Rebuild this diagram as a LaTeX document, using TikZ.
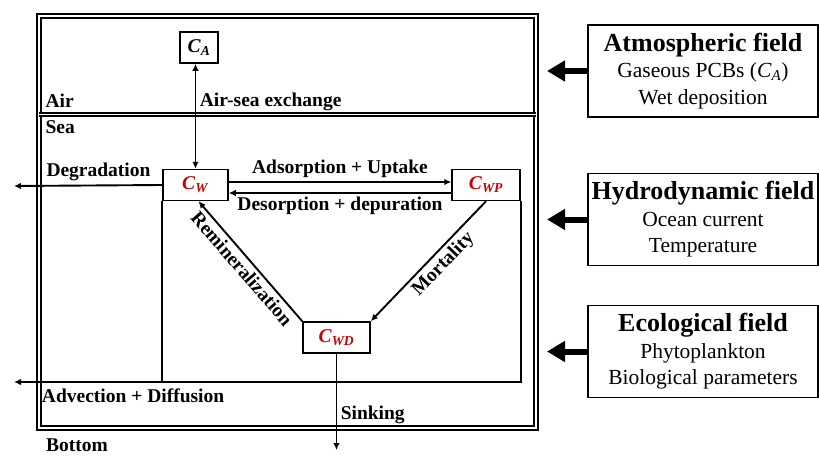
\documentclass[tikz,border=0pt]{standalone}
\usepackage{fontspec}
\setmainfont{Liberation Serif}
\usetikzlibrary{arrows.meta}
\newcommand{\conc}[1]{\textbf{\textit{C}\textsubscript{\textit{#1}}}}

\begin{document}
\begin{tikzpicture}[x=1pt, y=-1pt, font=\fontsize{19.5}{22}\selectfont\bfseries,
    comp/.style={draw, line width=1.5pt, minimum height=31pt, inner sep=0pt, text=red!80!black},
    field/.style={draw, line width=1.8pt, minimum width=230pt, minimum height=92pt, align=center,
      font=\fontsize{21.5}{26.5}\selectfont},
    fieldarrow/.style={-{Triangle[length=18pt,width=20pt]}, line width=6pt},
    wall/.style={double, line width=1.8pt, double distance=1.5pt}]
  \useasboundingbox (0,0) rectangle (819,455);

  % ocean box and air/sea interface
  \draw[wall] (39,16) rectangle (536,428);
  \draw[wall] (39,114.5) -- (536,114.5);
  \node[anchor=west] (air) at (42,101) {Air};
  \node[anchor=west] (sea) at (42,127) {Sea};
  \node[anchor=west, inner sep=1pt] (bottom) at (45,445) {Bottom};

  \begin{scope}[every node/.style={comp}]
    \node[text=black, minimum width=38pt] (CA) at (199,47.5) {\conc{A}};
    \node[minimum width=65pt] (CW) at (195.5,185) {\conc{W}};
    \node[minimum width=68pt] (CWP) at (486,185) {\conc{WP}};
    \node[minimum width=67pt] (CWD) at (336.5,337.5) {\conc{WD}};
  \end{scope}
  \coordinate (degout) at (14,186);
  \coordinate (advout) at (14,382);
  \coordinate (sinkout) at (336.5,450);

  \begin{scope}[->, >={Latex[length=7pt,width=6.5pt]}, line width=1.9pt]
    \draw[<->] (CA.south -| CW.north) -- node[pos=0.36, right] {Air-sea exchange} (CW.north);
    \draw ([yshift=3pt]CW.east) -- node[above] {Adsorption + Uptake} ([yshift=3pt]CWP.west);
    \draw ([yshift=-8pt]CWP.west) -- node[below] {Desorption + depuration} ([yshift=-8pt]CW.east);
    \draw (CW.west) -- node[pos=0.43, above] {Degradation} (degout);
    \draw[-] (CW.south west) -- (CW.south west |- advout);
    \draw (CWP.south east) -- (CWP.south east |- advout)
      -- node[pos=0.765, below=2pt] {Advection + Diffusion} (advout);
    \draw (CWD.south) -- node[pos=0.64, right] {Sinking} (sinkout);
    \draw (CWP.south) -- node[sloped, below, pos=0.45] {Mortality} (CWD.north east);
    \draw (CWD.north west) -- node[sloped, below] {Remineralization} ([xshift=3pt]CW.south);
  \end{scope}

  % driving fields
  \node[field] (atm) at (703,71) {{\fontsize{26}{27}\selectfont\bfseries Atmospheric field}\\
    Gaseous PCBs (\textit{C}\textsubscript{\textit{A}})\\Wet deposition};
  \node[field] (hyd) at (703,219.5) {{\fontsize{26}{27}\selectfont\bfseries Hydrodynamic field}\\
    Ocean current\\Temperature};
  \node[field] (eco) at (703,351.5) {{\fontsize{26}{27}\selectfont\bfseries Ecological field}\\
    Phytoplankton\\Biological parameters};
  \coordinate (fieldtip) at (547,0);
  \draw[fieldarrow] (atm.west) -- (atm.west -| fieldtip);
  \draw[fieldarrow] (hyd.west) -- (hyd.west -| fieldtip);
  \draw[fieldarrow] (eco.west) -- (eco.west -| fieldtip);
\end{tikzpicture}
\end{document}
